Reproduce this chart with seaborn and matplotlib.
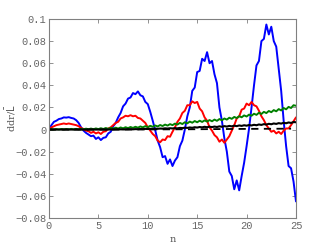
import numpy as np
import pandas as pd
import matplotlib
matplotlib.use("Agg")
import matplotlib.pyplot as plt
import seaborn as sns

blue = [0.000, 0.004, 0.007, 0.008, 0.0095, 0.010, 0.011, 0.0108, 0.0112, 0.0105,
        0.010, 0.0085, 0.006, 0.002, -0.001, -0.003, -0.0045, -0.006, -0.0055, -0.0085,
        -0.007, -0.0095, -0.0075, -0.007, -0.0035, -0.002, 0.003, 0.006, 0.011, 0.015,
        0.021, 0.0235, 0.028, 0.029, 0.033, 0.032, 0.0345, 0.031, 0.030, 0.025,
        0.023, 0.016, 0.008, -0.0005, -0.010, -0.016, -0.025, -0.024, -0.031, -0.027,
        -0.033, -0.028, -0.025, -0.015, -0.010, 0.000, 0.012, 0.020, 0.035, 0.038,
        0.052, 0.053, 0.064, 0.062, 0.070, 0.060, 0.062, 0.050, 0.042, 0.020,
        0.008, -0.008, -0.020, -0.038, -0.042, -0.054, -0.046, -0.055, -0.042, -0.030,
        -0.015, 0.001, 0.020, 0.040, 0.058, 0.062, 0.080, 0.082, 0.095, 0.086,
        0.093, 0.080, 0.075, 0.055, 0.035, 0.008, -0.015, -0.033, -0.035, -0.047,
        -0.065]
red = [0.000, 0.002, 0.003, 0.004, 0.0045, 0.005, 0.0055, 0.005, 0.0055, 0.005,
       0.0045, 0.004, 0.003, 0.0015, 0.0005, -0.001, -0.0015, -0.003, -0.002, -0.0035,
       -0.0025, -0.004, -0.002, -0.0015, 0.001, 0.002, 0.004, 0.006, 0.007, 0.010,
       0.011, 0.0125, 0.012, 0.013, 0.012, 0.0125, 0.0105, 0.010, 0.008, 0.006,
       0.002, -0.001, -0.004, -0.006, -0.010, -0.0115, -0.009, -0.0095, -0.006, -0.0065,
       -0.002, 0.002, 0.007, 0.010, 0.015, 0.017, 0.022, 0.022, 0.0255, 0.024,
       0.025, 0.019, 0.0165, 0.011, 0.008, 0.002, -0.001, -0.005, -0.007, -0.011,
       -0.009, -0.012, -0.009, -0.006, -0.001, 0.004, 0.010, 0.012, 0.018, 0.019,
       0.0235, 0.022, 0.025, 0.022, 0.021, 0.017, 0.012, 0.0085, 0.004, 0.001,
       -0.002, -0.001, -0.0035, -0.002, -0.004, -0.001, 0.001, 0.001, 0.004, 0.0075,
       0.011]
green = [0.0000, 0.0003, 0.0000, 0.0004, 0.0001, 0.0005, 0.0001, 0.0005, 0.0002, 0.0006,
         0.0002, 0.0006, 0.0002, 0.0007, 0.0002, 0.0008, 0.0003, 0.0009, 0.0003, 0.0010,
         0.0004, 0.0012, 0.0005, 0.0014, 0.0006, 0.0015, 0.0008, 0.0017, 0.0009, 0.0019,
         0.0011, 0.0021, 0.0013, 0.0023, 0.0015, 0.0025, 0.0017, 0.0028, 0.0020, 0.0031,
         0.0022, 0.0034, 0.0025, 0.0037, 0.0028, 0.0041, 0.0032, 0.0045, 0.0036, 0.0049,
         0.0040, 0.0054, 0.0045, 0.0060, 0.0050, 0.0066, 0.0056, 0.0072, 0.0062, 0.0077,
         0.0066, 0.0080, 0.0069, 0.0083, 0.0072, 0.0086, 0.0075, 0.0090, 0.0079, 0.0095,
         0.0084, 0.0100, 0.0090, 0.0107, 0.0097, 0.0114, 0.0104, 0.0121, 0.0111, 0.0128,
         0.0118, 0.0135, 0.0125, 0.0143, 0.0133, 0.0152, 0.0141, 0.0160, 0.0149, 0.0168,
         0.0157, 0.0176, 0.0165, 0.0185, 0.0173, 0.0195, 0.0183, 0.0205, 0.0195, 0.0220,
         0.0215]
black = [0.0000, 0.0000, 0.0000, 0.0000, 0.0000, 0.0000, 0.0000, 0.0000, 0.0000, 0.0000,
         0.0000, 0.0000, 0.0000, 0.0000, 0.0000, 0.0000, 0.0000, 0.0000, 0.0000, 0.0000,
         0.0000, 0.0000, 0.0000, 0.0000, 0.0000, 0.0001, 0.0000, 0.0001, 0.0001, 0.0002,
         0.0001, 0.0002, 0.0002, 0.0003, 0.0002, 0.0004, 0.0003, 0.0005, 0.0004, 0.0006,
         0.0005, 0.0007, 0.0006, 0.0008, 0.0007, 0.0009, 0.0008, 0.0011, 0.0009, 0.0012,
         0.0010, 0.0013, 0.0011, 0.0015, 0.0013, 0.0017, 0.0015, 0.0019, 0.0016, 0.0021,
         0.0018, 0.0023, 0.0020, 0.0025, 0.0021, 0.0026, 0.0022, 0.0027, 0.0023, 0.0029,
         0.0025, 0.0031, 0.0027, 0.0033, 0.0029, 0.0035, 0.0031, 0.0037, 0.0033, 0.0039,
         0.0035, 0.0041, 0.0037, 0.0043, 0.0039, 0.0046, 0.0042, 0.0049, 0.0045, 0.0052,
         0.0048, 0.0055, 0.0051, 0.0058, 0.0054, 0.0061, 0.0057, 0.0064, 0.0060, 0.0068,
         0.0066]
dashed_n = [0, 5, 10, 15, 20, 24.5]
dashed = [0.0, 0.0, 0.0001, 0.0003, 0.0006, 0.0008]

yticks = [-0.08, -0.06, -0.04, -0.02, 0, 0.02, 0.04, 0.06, 0.08, 0.1]
ylabels = ['\u22120.08', '\u22120.06', '\u22120.04', '\u22120.02', '0',
           '0.02', '0.04', '0.06', '0.08', '0.1']
xticks = [0, 5, 10, 15, 20, 25]

n = np.arange(len(blue)) * 0.25
df = pd.DataFrame({'n': n, 'blue': blue, 'red': red, 'green': green, 'black': black})

sns.set_style('ticks')
plt.rcParams['font.family'] = ['Liberation Mono', 'DejaVu Sans Mono']

fig = plt.figure(figsize=(3.27, 2.46), dpi=100)
ax = fig.add_axes([0.1498, 0.1138, 0.7554, 0.809])

sns.lineplot(data=df, x='n', y='blue', color='#0000ff', lw=1.4, ax=ax)
sns.lineplot(data=df, x='n', y='red', color='#ff0000', lw=1.4, ax=ax)
sns.lineplot(data=df, x='n', y='green', color='#008000', lw=1.4, ax=ax)
sns.lineplot(data=df, x='n', y='black', color='black', lw=1.5, ax=ax)
sns.lineplot(x=dashed_n, y=dashed, color='black', lw=1.3, ls=(0, (4, 3)), ax=ax)

ax.set_xlim(0, 25)
ax.set_ylim(-0.08, 0.1)
ax.set_xticks(xticks)
ax.set_xticklabels([str(t) for t in xticks])
ax.set_yticks(yticks)
ax.set_yticklabels(ylabels)
ax.tick_params(direction='in', top=True, right=True, length=3, width=0.6,
               colors='#808080', labelcolor='#666666', labelsize=7.5, pad=2)
for s in ax.spines.values():
    s.set_color('#808080')
    s.set_linewidth(0.8)

ax.set_xlabel('n', family='DejaVu Serif', fontsize=7, color='#555555')
ax.set_ylabel('ddr/$\\bar{\\mathrm{L}}$', family='DejaVu Serif', fontsize=7, color='#555555')
ax.xaxis.set_label_coords(0.5, -0.085)
ax.yaxis.set_label_coords(-0.125, 0.5)

fig.savefig('out.png', dpi=100)
